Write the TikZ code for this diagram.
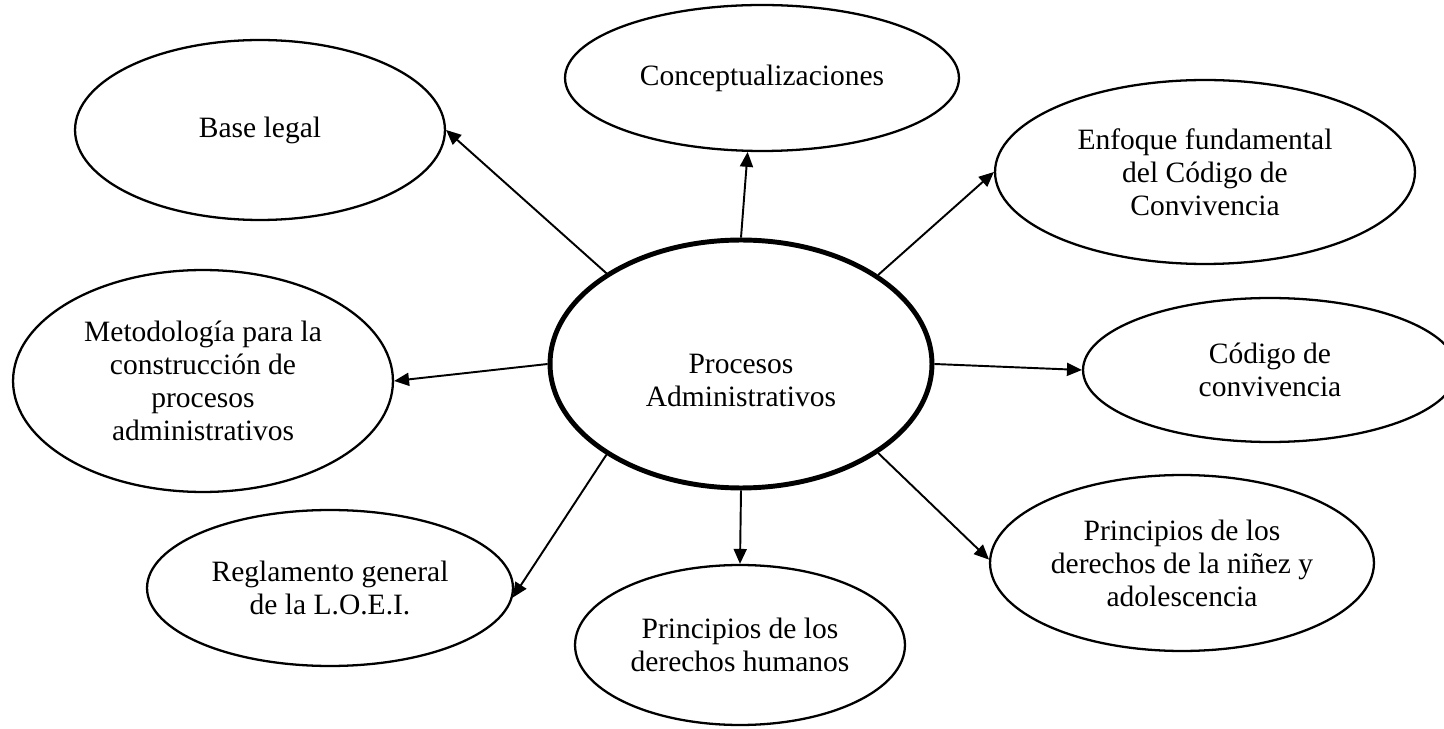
\documentclass[tikz,border=0pt]{standalone}
\usepackage{fontspec}
\setmainfont{Liberation Serif}
\usetikzlibrary{shapes.geometric,arrows.meta}

\begin{document}
\begin{tikzpicture}[x=0.02cm,y=-0.02cm,
    bubble/.style={draw,ellipse,line width=1.3pt,inner sep=0pt,align=center,
      font=\fontsize{16.8}{18.8}\selectfont},
    core/.style={bubble,line width=2.8pt},
    arr/.style={line width=1.1pt,-{Triangle[length=8.5pt,width=7.4pt]}}]
  \useasboundingbox (0,0) rectangle (1444,729);
  % centre
  \node[core,minimum width=7.64cm,minimum height=4.96cm] (proc) at (741,364) {\rule{0pt}{30pt}Procesos\\Administrativos};
  % outer ring
  \node[bubble,minimum width=7.4cm,minimum height=3.6cm] (base) at (260,130) {Base legal};
  \node[bubble,minimum width=7.88cm,minimum height=2.92cm] (concep) at (762,78) {Conceptualizaciones};
  \node[bubble,minimum width=8.4cm,minimum height=3.68cm] (enfoque) at (1205,172) {Enfoque fundamental\\del Código de\\Convivencia};
  \node[bubble,minimum width=7.48cm,minimum height=2.88cm] (codigo) at (1270,370) {Código de\\convivencia};
  \node[bubble,minimum width=7.6cm,minimum height=4.44cm] (metodo) at (203,381) {Metodología para la\\construcción de\\procesos\\administrativos};
  \node[bubble,minimum width=7.32cm,minimum height=3.12cm] (regla) at (330,588) {Reglamento general\\de la L.O.E.I.};
  \node[bubble,minimum width=6.6cm,minimum height=3.2cm] (dh) at (740,645) {Principios de los\\derechos humanos};
  \node[bubble,minimum width=7.68cm,minimum height=3.52cm] (ninez) at (1182,563) {Principios de los\\derechos de la niñez y\\adolescencia};
  % arrows
  \draw[arr] (proc.146.8) -- (base.0);
  \draw[arr] (proc.90) -- (concep.-101.5);
  \draw[arr] (proc.33.4) -- (enfoque.180);
  \draw[arr] (proc.0) -- (codigo.180);
  \draw[arr] (proc.180) -- (metodo.0);
  \draw[arr] (proc.-146.8) -- (regla.-3);
  \draw[arr] (proc.270) -- (dh.90);
  \draw[arr] (proc.-33.4) -- (ninez.179);
\end{tikzpicture}
\end{document}
